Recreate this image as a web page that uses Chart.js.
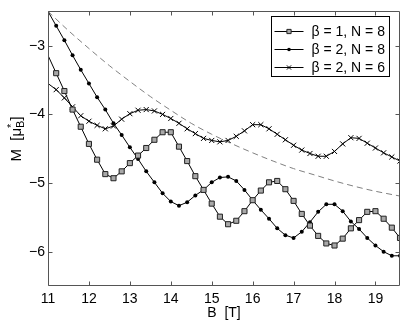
<!DOCTYPE html>
<html><head><meta charset="utf-8">
<script src="https://cdn.jsdelivr.net/npm/chart.js@4/dist/chart.umd.min.js"></script>
<style>html,body{margin:0;padding:0;background:#fff;overflow:hidden}</style>
</head><body>
<canvas id="c" width="409" height="324"></canvas>
<script>
// ---- data ----
const fieldB = [11.0,11.2,11.4,11.6,11.8,12.0,12.2,12.4,12.6,12.8,13.0,13.2,13.4,13.6,13.8,14.0,14.2,14.4,14.6,14.8,15.0,15.2,15.4,15.6,15.8,16.0,16.2,16.4,16.6,16.8,17.0,17.2,17.4,17.6,17.8,18.0,18.2,18.4,18.6,18.8,19.0,19.2,19.4,19.6];
const mBeta1N8 = [-3.14,-3.40,-3.66,-3.93,-4.18,-4.43,-4.66,-4.87,-4.93,-4.83,-4.71,-4.60,-4.49,-4.37,-4.26,-4.26,-4.47,-4.68,-4.90,-5.10,-5.30,-5.49,-5.60,-5.55,-5.41,-5.25,-5.11,-4.99,-4.97,-5.09,-5.26,-5.45,-5.62,-5.77,-5.88,-5.91,-5.81,-5.66,-5.54,-5.42,-5.41,-5.52,-5.65,-5.80];
const mBeta2N8 = [-2.50,-2.71,-2.92,-3.14,-3.35,-3.55,-3.75,-3.93,-4.13,-4.30,-4.48,-4.65,-4.83,-4.99,-5.15,-5.27,-5.33,-5.28,-5.18,-5.10,-4.99,-4.92,-4.91,-4.97,-5.10,-5.25,-5.39,-5.52,-5.66,-5.76,-5.80,-5.71,-5.57,-5.42,-5.31,-5.31,-5.41,-5.56,-5.67,-5.80,-5.91,-6.00,-6.06,-6.06];
const mBeta2N6 = [-3.55,-3.64,-3.76,-3.89,-4.02,-4.10,-4.16,-4.21,-4.17,-4.07,-3.99,-3.94,-3.93,-3.95,-4.00,-4.06,-4.13,-4.21,-4.28,-4.35,-4.38,-4.40,-4.38,-4.32,-4.24,-4.15,-4.15,-4.21,-4.29,-4.37,-4.45,-4.52,-4.57,-4.61,-4.61,-4.54,-4.43,-4.34,-4.35,-4.42,-4.49,-4.56,-4.62,-4.68];
const dashB = [11.0,11.5,12.0,12.5,13.0,13.5,14.0,14.5,15.0,15.5,16.0,16.5,17.0,17.5,18.0,18.5,19.0,19.6];
const dashM = [-2.50,-2.78,-3.04,-3.29,-3.52,-3.74,-3.94,-4.13,-4.29,-4.43,-4.56,-4.68,-4.79,-4.88,-4.97,-5.05,-5.12,-5.19];
const seriesLabels = ['β = 1, N = 8','β = 2, N = 8','β = 2, N = 6'];
const xTickVals = [11,12,13,14,15,16,17,18,19];
const yTickVals = [-6,-5,-4,-3];

const FONT = '"Liberation Sans", Arial, Helvetica, sans-serif';
const pts = (xs, ys) => xs.map((x,i)=>({x:x, y:ys[i]}));
const hideFirst = r => (c => c.dataIndex === 0 ? 0 : r);

const datasets = [
  {label: seriesLabels[0], data: pts(fieldB, mBeta1N8), borderColor:'#000', borderWidth:1,
   pointStyle:'rect', pointRadius: hideFirst(3.6), pointBackgroundColor:'#a8a8a8', pointBorderColor:'#222', pointBorderWidth:1, tension:0},
  {label: seriesLabels[1], data: pts(fieldB, mBeta2N8), borderColor:'#000', borderWidth:1,
   pointStyle:'circle', pointRadius: hideFirst(2), pointBackgroundColor:'#000', pointBorderColor:'#000', pointBorderWidth:0, tension:0},
  {label: seriesLabels[2], data: pts(fieldB, mBeta2N6), borderColor:'#000', borderWidth:1,
   pointStyle:'crossRot', pointRadius: hideFirst(3.6), pointBackgroundColor:'#000', pointBorderColor:'#000', pointBorderWidth:1, tension:0},
  {label: 'dash', data: pts(dashB, dashM), borderColor:'#808080', borderWidth:1, borderDash:[6,4],
   pointRadius:0, cubicInterpolationMode:'monotone'}
];

const framePlugin = {
  id: 'frame',
  afterDraw(chart) {
    const ctx = chart.ctx, a = chart.chartArea, xs = chart.scales.x, ys = chart.scales.y;
    ctx.save();
    ctx.strokeStyle = '#555'; ctx.lineWidth = 1;
    const L = Math.round(a.left)+0.5, R = Math.round(a.right)-0.5, T = Math.round(a.top)+0.5, B = Math.round(a.bottom)-0.5;
    ctx.beginPath();
    ctx.rect(L, T, R-L, B-T);
    const tl = 4;
    xTickVals.forEach(v => { const p = Math.round(xs.getPixelForValue(v))+0.5;
      ctx.moveTo(p, B); ctx.lineTo(p, B-tl); ctx.moveTo(p, T); ctx.lineTo(p, T+tl); });
    yTickVals.forEach(v => { const p = Math.round(ys.getPixelForValue(v))+0.5;
      ctx.moveTo(L, p); ctx.lineTo(L+tl, p); ctx.moveTo(R, p); ctx.lineTo(R-tl, p); });
    ctx.stroke();

    // legend
    const bw = 118, bh = 60;
    const bx = Math.round(a.right) - 11 - bw + 0.5, by = Math.round(a.top) + 5 + 0.5;
    ctx.fillStyle = '#fff'; ctx.fillRect(bx, by, bw, bh);
    ctx.strokeStyle = '#000'; ctx.strokeRect(bx, by, bw, bh);
    ctx.font = '14px ' + FONT; ctx.textBaseline = 'middle'; ctx.textAlign = 'left';
    for (let i = 0; i < 3; i++) {
      const ds = chart.data.datasets[i];
      const yy = Math.round(by + 14 + i*18) + 0.5;
      ctx.strokeStyle = '#000'; ctx.lineWidth = 1; ctx.setLineDash([]);
      ctx.beginPath(); ctx.moveTo(bx+3, yy); ctx.lineTo(bx+32, yy); ctx.stroke();
      ctx.fillStyle = ds.pointBackgroundColor; ctx.strokeStyle = ds.pointBorderColor;
      ctx.lineWidth = ds.pointBorderWidth || 0;
      Chart.helpers.drawPoint(ctx, {pointStyle: ds.pointStyle, radius: (i===0?3:(i===1?1.8:3)), rotation:0, borderWidth: ds.pointBorderWidth}, bx+17.5, yy);
      ctx.fillStyle = '#000';
      ctx.fillText(ds.label, bx+40, yy+1);
    }

    // y-axis title  M [μ*_B]
    ctx.translate(16, 139);
    ctx.rotate(-Math.PI/2);
    ctx.fillStyle = '#000'; ctx.textBaseline = 'alphabetic'; ctx.textAlign = 'left';
    const big = '15px ' + FONT, small = '11px ' + FONT;
    const parts = [['M  [μ', big, 0], ['*', small, -6], ['B', small, 3], [']', big, 0]];
    let total = 0;
    parts.forEach(p => { if (p[0] !== '*') { ctx.font = p[1]; total += ctx.measureText(p[0]).width; } });
    let x = -total/2;
    parts.forEach(p => { ctx.font = p[1]; ctx.fillText(p[0], x, 5 + p[2]);
      x += (p[0] === '*') ? 0 : ctx.measureText(p[0]).width; });
    ctx.restore();
  }
};

new Chart(document.getElementById('c'), {
  type: 'line',
  data: { datasets },
  options: {
    responsive: false, animation: false, devicePixelRatio: 1,
    layout: { padding: { left: 0, right: 9, top: 8, bottom: 0 } },
    plugins: { legend: { display: false }, tooltip: { enabled: false } },
    scales: {
      x: { type: 'linear', min: 11, max: 19.6,
        afterBuildTicks: s => { s.ticks = xTickVals.map(v => ({value: v})); },
        afterFit: s => { s.height = 38; },
        grid: { display: true, drawOnChartArea: false, drawTicks: false },
        border: { display: false },
        ticks: { padding: 5, color: '#000', font: { family: FONT, size: 14 }, maxRotation: 0, autoSkip: false,
          callback: v => String(v) },
        title: { display: true, text: 'B  [T]', color: '#000', font: { family: FONT, size: 14 }, padding: { top: 0, bottom: 2 } }
      },
      y: { type: 'linear', min: -6.5, max: -2.5,
        afterBuildTicks: s => { s.ticks = yTickVals.map(v => ({value: v})); },
        afterFit: s => { s.width = 48; },
        grid: { display: true, drawOnChartArea: false, drawTicks: false },
        border: { display: false },
        ticks: { padding: 3, color: '#000', font: { family: FONT, size: 14 }, autoSkip: false,
          callback: v => String(v).replace('-', '\u2212') }
      }
    }
  },
  plugins: [framePlugin]
});
</script>
</body></html>
